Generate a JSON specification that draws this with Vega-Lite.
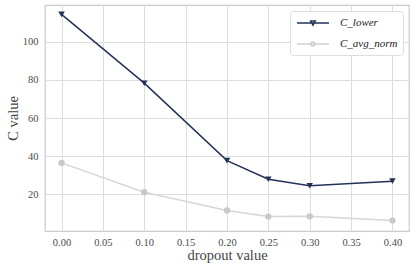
{
  "$schema": "https://vega.github.io/schema/vega-lite/v6.json",
  "width": 364,
  "height": 226,
  "autosize": "none",
  "padding": {"left": 45, "top": 5, "right": 7, "bottom": 40},
  "background": "white",
  "config": {
    "view": {"stroke": "#cccccc", "strokeWidth": 1.25},
    "font": "Liberation Serif"
  },
  "data": {
    "values": [
      {"dropout": 0.0, "C": 114.5, "series": "C_lower"},
      {"dropout": 0.1, "C": 78.3, "series": "C_lower"},
      {"dropout": 0.2, "C": 37.6, "series": "C_lower"},
      {"dropout": 0.25, "C": 27.8, "series": "C_lower"},
      {"dropout": 0.3, "C": 24.4, "series": "C_lower"},
      {"dropout": 0.4, "C": 26.8, "series": "C_lower"},
      {"dropout": 0.0, "C": 36.4, "series": "C_avg_norm"},
      {"dropout": 0.1, "C": 21.0, "series": "C_avg_norm"},
      {"dropout": 0.2, "C": 11.4, "series": "C_avg_norm"},
      {"dropout": 0.25, "C": 8.2, "series": "C_avg_norm"},
      {"dropout": 0.3, "C": 8.3, "series": "C_avg_norm"},
      {"dropout": 0.4, "C": 6.1, "series": "C_avg_norm"}
    ]
  },
  "encoding": {
    "x": {
      "field": "dropout", "type": "quantitative",
      "scale": {"domain": [-0.02, 0.42], "nice": false, "zero": false},
      "axis": {"values": [0, 0.05, 0.1, 0.15, 0.2, 0.25, 0.3, 0.35, 0.4], "format": ".2f", "title": "dropout value", "labelPadding": 6, "titlePadding": 1, "labelFlush": false, "labelFont": "Liberation Serif", "titleFont": "Liberation Serif", "labelFontSize": 10.5, "titleFontSize": 14.5, "titleFontWeight": "normal", "labelColor": "#4a4a4a", "titleColor": "#444444", "gridColor": "#dddddd", "domain": false, "ticks": false}
    },
    "y": {
      "field": "C", "type": "quantitative",
      "scale": {"domain": [0.6, 119.4], "nice": false, "zero": false},
      "axis": {"values": [20, 40, 60, 80, 100], "title": "C value", "labelPadding": 7, "titlePadding": 2, "labelFont": "Liberation Serif", "titleFont": "Liberation Serif", "labelFontSize": 10.5, "titleFontSize": 14.5, "titleFontWeight": "normal", "labelColor": "#4a4a4a", "titleColor": "#444444", "gridColor": "#dddddd", "domain": false, "ticks": false}
    }
  },
  "layer": [
    {
      "transform": [{"filter": "datum.series === 'C_avg_norm'"}],
      "mark": {"type": "line", "strokeWidth": 1.5, "color": "#d6d6d6"}
    },
    {
      "transform": [{"filter": "datum.series === 'C_avg_norm'"}],
      "mark": {"type": "point", "filled": true, "opacity": 1, "size": 40, "shape": "circle", "color": "#c8c8c8"}
    },
    {
      "transform": [{"filter": "datum.series === 'C_lower'"}],
      "mark": {"type": "line", "strokeWidth": 1.5, "color": "#233357"}
    },
    {
      "transform": [{"filter": "datum.series === 'C_lower'"}],
      "mark": {"type": "point", "filled": true, "opacity": 1, "size": 42, "shape": "triangle-down", "color": "#233357"}
    },
    {
      "mark": {"type": "point", "filled": false, "opacity": 1, "size": 0, "strokeWidth": 1.5},
      "encoding": {
        "color": {
          "field": "series", "type": "nominal",
          "scale": {"domain": ["C_lower", "C_avg_norm"], "range": ["#233357", "#cfcfcf"]},
          "legend": {
            "title": null,
            "orient": "top-right",
            "offset": 6,
            "padding": 5,
            "strokeColor": "#dddddd",
            "fillColor": "white",
            "cornerRadius": 3,
            "labelFont": "Liberation Serif",
            "labelFontStyle": "italic",
            "labelFontSize": 11,
            "labelColor": "#222222",
            "symbolSize": 144,
            "symbolStrokeWidth": 1.5,
            "symbolOpacity": 1,
            "rowPadding": 8,
            "labelOffset": 31
          }
        },
        "shape": {
          "field": "series", "type": "nominal",
          "scale": {"domain": ["C_lower", "C_avg_norm"], "range": ["M-0.83,0H4.5M1.45,-0.35H2.21L1.83,0.35Z", "M-0.83,0H4.5M2.17,0A0.34,0.34 0 1,1 1.49,0A0.34,0.34 0 1,1 2.17,0Z"]}
        }
      }
    }
  ]
}
